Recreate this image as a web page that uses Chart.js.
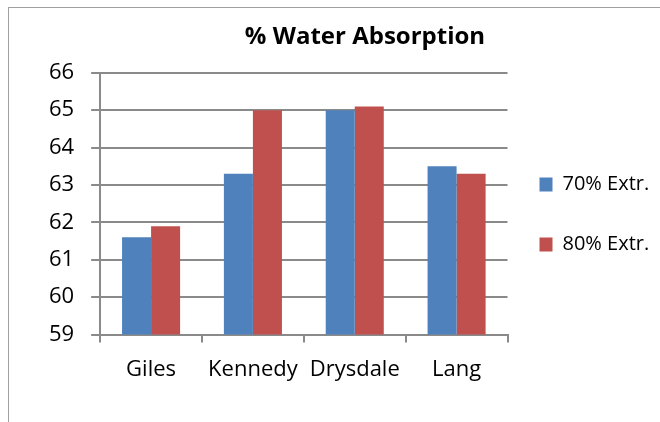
<!DOCTYPE html>
<html lang="en">
<head>
  <meta charset="UTF-8">
  <title>% Water Absorption</title>
  <style>
    html, body { margin: 0; padding: 0; background: #fff; overflow: hidden; }
    .marco {
      position: absolute; left: 8px; top: 7px;
      width: 900px; height: 600px;
      border: 1px solid #a0a0a0;
    }
    .lienzo { position: absolute; left: 0; top: 0; width: 730px; height: 422px; }
  </style>
</head>
<body>

  <div class="marco"></div>
  <div class="lienzo">
    <canvas id="grafico" width="730" height="422"></canvas>
  </div>

  <script src="https://cdn.jsdelivr.net/npm/chart.js"></script>

  <script>
    // Datos
    const categorias = ["Giles", "Kennedy", "Drysdale", "Lang"];
    const extr70 = [61.6, 63.3, 65.0, 63.5];
    const extr80 = [61.9, 65.0, 65.1, 63.3];
    const series = ["70% Extr.", "80% Extr."];

    const gris = "#8a8a8a";
    const fuente = "'Open Sans', 'DejaVu Sans', sans-serif";

    // Ajuste fino de la posicion del titulo y la leyenda (como en Excel)
    const ajuste = {
      id: 'ajuste',
      afterLayout(chart) {
        chart.legend.left -= 8;
        chart.legend.right -= 8;
        chart.legend.top += 16;
        chart.legend.bottom += 16;
        chart.titleBlock.left += 16;
        chart.titleBlock.right += 16;
      }
    };

    const grafico = new Chart(document.querySelector("#grafico"), {
      type: 'bar',
      data: {
        labels: categorias,
        datasets: [
          { label: series[0], data: extr70, backgroundColor: '#4F81BD' },
          { label: series[1], data: extr80, backgroundColor: '#C0504D' }
        ]
      },
      options: {
        responsive: false,
        animation: false,
        categoryPercentage: 0.57,
        barPercentage: 1,
        layout: { padding: { left: 32, right: 64, top: 0, bottom: 25 } },
        plugins: {
          tooltip: { enabled: false },
          title: {
            display: true,
            text: '% Water Absorption',
            color: '#000',
            font: { family: fuente, size: 24, weight: 'bold' },
            padding: { top: 23, bottom: 21 }
          },
          legend: {
            position: 'right',
            labels: {
              color: '#000',
              font: { family: fuente, size: 20 },
              boxWidth: 13,
              boxHeight: 14,
              padding: 40
            }
          }
        },
        scales: {
          x: {
            offset: true,
            grid: { offset: true, drawOnChartArea: false, color: gris, lineWidth: 2, tickLength: 8 },
            border: { color: gris, width: 2 },
            ticks: {
              color: '#000', font: { family: fuente, size: 22 }, padding: 14,
              maxRotation: 0, minRotation: 0, autoSkip: false
            }
          },
          y: {
            min: 59,
            max: 66,
            grid: { color: gris, lineWidth: 2, tickLength: 9 },
            border: { color: gris, width: 2 },
            ticks: { stepSize: 1, color: '#000', font: { family: fuente, size: 22 }, padding: 17 }
          }
        }
      },
      plugins: [ajuste]
    });
  </script>

</body>
</html>
